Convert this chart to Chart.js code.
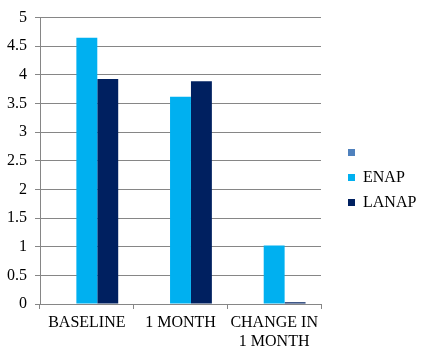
<!DOCTYPE html>
<html>
<head>
<meta charset="utf-8">
<script src="https://cdn.jsdelivr.net/npm/chart.js@4"></script>
<style>
html,body{margin:0;padding:0;background:#fff;}
</style>
</head>
<body>
<canvas id="c" width="422" height="356"></canvas>
<script>
const categories = ["BASELINE", "1 MONTH", ["CHANGE IN", "1 MONTH"]];
const seriesNames = ["", "ENAP", "LANAP"];
const blankValues = [null, null, null];
const enapValues = [4.65, 3.62, 1.02];
const lanapValues = [3.93, 3.89, 0.03];
const yTicks = [0, 0.5, 1, 1.5, 2, 2.5, 3, 3.5, 4, 4.5, 5];

const colors = ["#4F81BD", "#00B0F0", "#002060"];
Chart.defaults.font.family = "'Liberation Serif'";
Chart.defaults.font.size = 16;
Chart.defaults.color = '#000';
function mkFont() { return {family: "'Liberation Serif'", size: 16}; }

const LEGEND_W = 101;
const legendPlace = {
  id: 'legendPlace',
  afterInit(chart) {
    const lg = chart.legend;
    const orig = lg.fit;
    lg.fit = function() { orig.call(this); this.width = LEGEND_W; };
  },
  afterLayout(chart) {
    const lg = chart.legend;
    lg.left = chart.chartArea.right + 18;
    lg.right = lg.left + LEGEND_W;
    lg.top = 0;
    lg.bottom = 355;
  }
};

new Chart(document.getElementById('c'), {
  type: 'bar',
  data: {
    labels: categories,
    datasets: [
      {label: seriesNames[0], data: blankValues, backgroundColor: colors[0]},
      {label: seriesNames[1], data: enapValues, backgroundColor: colors[1]},
      {label: seriesNames[2], data: lanapValues, backgroundColor: colors[2]}
    ]
  },
  plugins: [legendPlace],
  options: {
    responsive: false,
    animation: false,
    devicePixelRatio: 1,
    layout: {padding: {left: 7, right: 0, top: 15, bottom: 1}},
    datasets: {bar: {barPercentage: 1, categoryPercentage: 0.67}},
    plugins: {
      legend: {
        position: 'right',
        align: 'center',
        labels: {
          boxWidth: 7, boxHeight: 7, padding: 9,
          font: mkFont()
        }
      },
      tooltip: {enabled: false}
    },
    scales: {
      x: {
        afterFit: (s) => { s.height = 51; },
        grid: {display: true, drawOnChartArea: false, drawTicks: true, tickLength: 5, color: '#868686', offset: true},
        border: {display: true, color: '#868686'},
        ticks: {font: mkFont(), maxRotation: 0, autoSkip: false, padding: 4}
      },
      y: {
        min: 0, max: 5,
        afterFit: (s) => { s.width = 33; },
        afterBuildTicks: (axis) => { axis.ticks = yTicks.map(v => ({value: v})); },
        grid: {color: '#868686', tickLength: 5, drawTicks: true},
        border: {display: true, color: '#868686'},
        ticks: {font: mkFont(), padding: 8, callback: v => String(v)}
      }
    }
  }
});
</script>
</body>
</html>
